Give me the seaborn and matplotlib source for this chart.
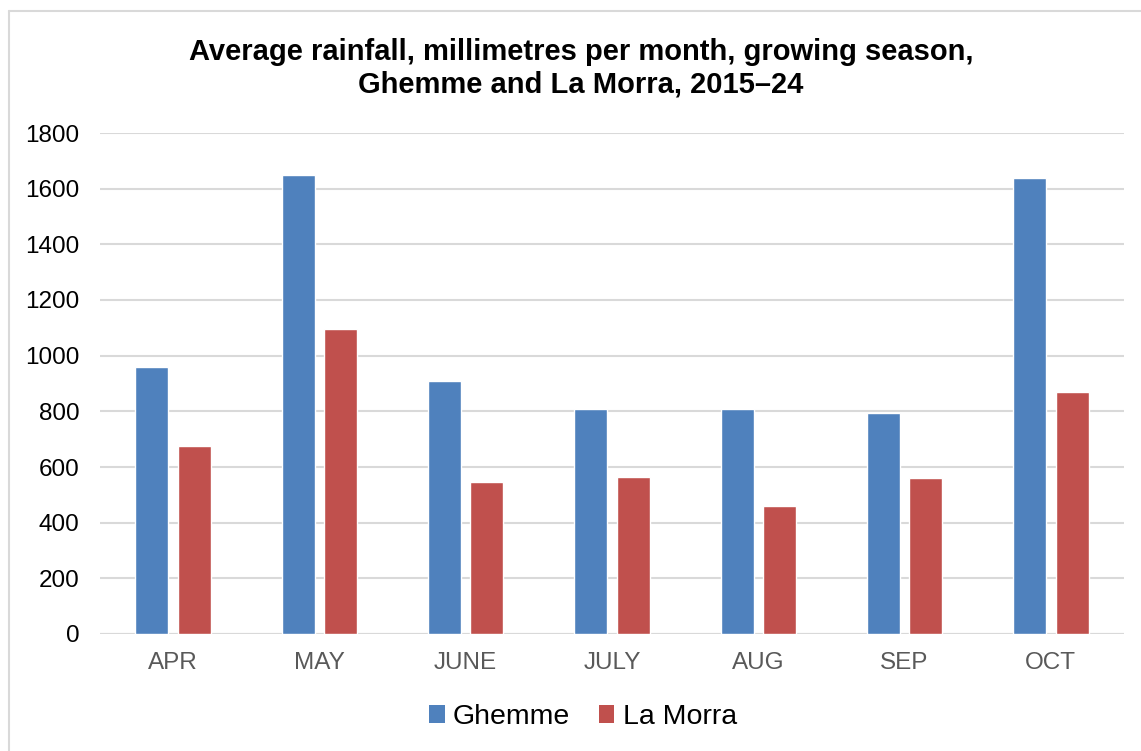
import matplotlib
matplotlib.use("Agg")
import matplotlib.pyplot as plt
import seaborn as sns
import pandas as pd
from matplotlib.patches import Patch
from matplotlib.lines import Line2D

months = ["APR", "MAY", "JUNE", "JULY", "AUG", "SEP", "OCT"]
ghemme = [959, 1648, 910, 810, 808, 793, 1638]
la_morra = [674, 1097, 545, 565, 459, 559, 871]
series = ["Ghemme", "La Morra"]
colors = ["#4F81BD", "#C0504D"]
yticks = [0, 200, 400, 600, 800, 1000, 1200, 1400, 1600, 1800]

df = pd.DataFrame({
    "month": months * 2,
    "value": ghemme + la_morra,
    "site": [series[0]] * len(months) + [series[1]] * len(months),
})

sns.set_theme(style="white")
plt.rcParams["font.family"] = ["Liberation Sans", "DejaVu Sans"]

fig = plt.figure(figsize=(11.41, 7.51), dpi=100)
ax = fig.add_axes([100 / 1141, 1 - 634 / 751, 1024 / 1141, (634 - 133) / 751])

sns.barplot(data=df, x="month", y="value", hue="site", order=months,
            hue_order=series, palette=colors, width=0.58, gap=0.22,
            saturation=1, ax=ax, legend=False, zorder=3)

ax.set_xlim(-0.5, 6.5)
ax.set_ylim(0, 1800)
ax.set_yticks(yticks)
ax.set_yticklabels([str(t) for t in yticks])
ax.yaxis.grid(True, color="#D9D9D9", linewidth=1.5, zorder=0)
ax.set_axisbelow(True)
for s in ax.spines.values():
    s.set_visible(False)
ax.axhline(0, color="#D9D9D9", linewidth=1.5, zorder=2)
ax.set_xlabel("")
ax.set_ylabel("")
ax.tick_params(axis="y", length=0, pad=15, labelsize=17.5, labelcolor="#000000")
ax.tick_params(axis="x", length=0, pad=13, labelsize=17.5, labelcolor="#595959")

fig.text(581 / 1141, 1 - 68 / 751,
         "Average rainfall, millimetres per month, growing season,\nGhemme and La Morra, 2015\u201324",
         ha="center", va="center", fontsize=21, fontweight="bold", linespacing=1.2,
         color="#000000")

handles = [Patch(facecolor=c, edgecolor="none") for c in colors]
fig.legend(handles, series, loc="center", bbox_to_anchor=(583 / 1141, 1 - 717 / 751),
           ncol=2, frameon=False, fontsize=20.5, handlelength=0.55, handleheight=0.55,
           handletextpad=0.3, columnspacing=1.0, labelcolor="#000000")

# outer chart border (left and top edges visible)
fig.add_artist(Line2D([9 / 1141, 9 / 1141], [0, 1 - 11 / 751], transform=fig.transFigure,
                      color="#D9D9D9", linewidth=1.5))
fig.add_artist(Line2D([9 / 1141, 1], [1 - 11 / 751, 1 - 11 / 751], transform=fig.transFigure,
                      color="#D9D9D9", linewidth=1.5))

fig.savefig("out.png", dpi=100, facecolor="white")
